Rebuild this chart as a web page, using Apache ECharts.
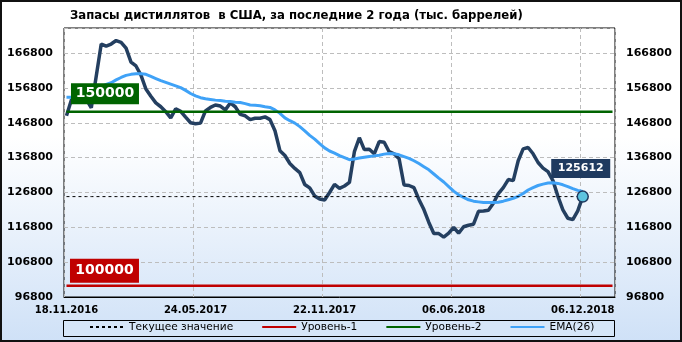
<!DOCTYPE html>
<html><head><meta charset="utf-8">
<script src="https://cdn.jsdelivr.net/npm/echarts@6/dist/echarts.min.js"></script>
<style>html,body{margin:0;padding:0;background:#fff}#c{width:682px;height:342px}</style>
</head><body><div id="c"></div>
<script>
const titleText = 'Запасы дистиллятов  в США, за последние 2 года (тыс. баррелей)';
const tickLabels = ['18.11.2016', '24.05.2017', '22.11.2017', '06.06.2018', '06.12.2018'];
const tickEvery = 26;
const slotCount = 111;
const stocks = [148800,153400,154000,155000,153500,151100,160200,169400,168800,169400,
170400,169900,168200,164200,163100,160500,156500,154400,152500,151400,
150000,148200,150800,150100,148400,146800,146500,146700,150200,151200,
151900,151600,150500,152500,151400,149200,148800,147700,148100,148100,
148500,147700,144500,138800,137400,135100,133700,132500,129100,128100,
125800,124900,124650,126800,129100,128000,128650,129700,138500,142500,
139100,139200,137900,141400,141200,138500,137900,136500,128950,128800,
128200,124800,121900,118200,115000,115000,114000,115100,116800,115100,
116950,117400,117700,121400,121500,121700,123700,126500,128200,130500,
130200,135900,139300,139700,137900,135400,133800,132800,130200,125700,
121800,119400,119000,121500,125612];
const ema26 = [154100,154100,154400,154700,155100,155700,156200,157100,157800,158300,
159100,159800,160400,160700,160900,160900,160700,160100,159500,158900,
158400,157900,157400,156900,156100,155200,154500,154000,153700,153500,
153300,153200,153000,152900,152700,152600,152300,151900,151800,151700,
151400,151200,150500,149500,148200,147400,146700,145700,144500,143200,
142100,140800,139600,138700,138100,137400,136800,136200,136400,136700,
136900,137100,137300,137500,137800,138000,137900,137600,137100,136600,
135900,135100,134200,133300,132100,130900,129800,128500,127200,126100,
125400,124700,124300,124100,123900,123900,123900,124000,124300,124700,
125100,125700,126500,127500,128200,128800,129200,129500,129600,129400,
129000,128500,127900,127400,127100];
const currentValue = 125612;
const level1 = 100000;
const level2 = 150000;
const yMin = 96800, yMax = 174000, yStep = 10000;

const F = 'DejaVu Sans';
const cats = Array.from({length: slotCount}, (_, i) =>
  (i % tickEvery === 0 && tickLabels[i / tickEvery]) ? tickLabels[i / tickEvery] : '');
const showTick = (i, v) => v !== '';
const lastIdx = stocks.length - 1;

const yAxisBase = {
  type: 'value', min: yMin, max: yMax, interval: yStep,
  axisLine: {show: false}, axisTick: {show: false},
  axisLabel: {showMaxLabel: false, formatter: v => String(v), color: '#000', fontSize: 11, fontWeight: 'bold', fontFamily: F, margin: 11}
};

const chart = echarts.init(document.getElementById('c'), null, {renderer: 'canvas'});
chart.setOption({
  animation: false,
  backgroundColor: {type: 'linear', x: 0, y: 0, x2: 0, y2: 1,
    colorStops: [{offset: 0, color: '#ffffff'}, {offset: 0.4, color: '#ffffff'}, {offset: 1, color: '#cfe1f7'}]},
  title: {text: titleText, left: 65, top: 5,
    textStyle: {fontFamily: F, fontSize: 11.7, fontWeight: 'bold', color: '#000'}},
  grid: {left: 64, right: 67, top: 28, bottom: 45, show: true, borderColor: '#000', borderWidth: 1, backgroundColor: 'transparent'},
  xAxis: {
    type: 'category', data: cats, boundaryGap: true,
    axisLine: {show: true, lineStyle: {color: '#000', width: 1}},
    axisTick: {show: false},
    axisLabel: {interval: showTick, color: '#000', fontSize: 10, fontWeight: 'bold', fontFamily: F, margin: 8},
    splitLine: {show: true, interval: showTick, lineStyle: {color: '#bdbdbd', type: [4, 3], width: 1}}
  },
  yAxis: [
    Object.assign({}, yAxisBase, {position: 'left',
      splitLine: {show: true, lineStyle: {color: '#bdbdbd', type: [4, 3], width: 1}}}),
    Object.assign({}, yAxisBase, {position: 'right', splitLine: {show: false}})
  ],
  legend: {
    data: ['Текущее значение', 'Уровень-1', 'Уровень-2', 'EMA(26)'],
    left: 89, top: 321.5, padding: 0, itemWidth: 34, itemHeight: 14, itemGap: 28, z: 10,
    itemStyle: {opacity: 0},
    textStyle: {fontFamily: F, fontSize: 10.6, color: '#000'}
  },
  graphic: [
    {type: 'rect', z: 1, shape: {x: 63.5, y: 320.5, width: 551, height: 16},
      style: {fill: '#d6e6f8', stroke: '#000', lineWidth: 1}},
    {type: 'rect', z: 100, shape: {x: 1, y: 1, width: 680, height: 340},
      style: {fill: 'none', stroke: '#111', lineWidth: 2}}
  ],
  series: [
    {name: 'Запасы', type: 'line', data: stocks, z: 2, symbol: 'none',
      lineStyle: {color: '#243f60', width: 3.5}, itemStyle: {color: '#243f60'}},
    {name: 'EMA(26)', type: 'line', data: ema26, z: 3, symbol: 'none',
      lineStyle: {color: '#3fa2f7', width: 3}, itemStyle: {color: '#3fa2f7'}},
    {name: 'Уровень-1', type: 'line', data: cats.map(() => level1), z: 4, symbol: 'none',
      lineStyle: {color: '#c00000', width: 2.5}, itemStyle: {color: '#c00000'},
      markPoint: {z: 6, data: [{coord: [0, level1], symbol: 'rect', symbolSize: [69, 24], symbolOffset: [38, -15],
        itemStyle: {color: '#c00000'},
        label: {show: true, position: 'inside', formatter: String(level1), color: '#fff', fontFamily: F, fontSize: 14, fontWeight: 'bold'}}]}},
    {name: 'Уровень-2', type: 'line', data: cats.map(() => level2), z: 4, symbol: 'none',
      lineStyle: {color: '#006400', width: 2.5}, itemStyle: {color: '#006400'},
      markPoint: {z: 6, data: [{coord: [0, level2], symbol: 'rect', symbolSize: [68, 21], symbolOffset: [38.5, -18],
        itemStyle: {color: '#006400'},
        label: {show: true, position: 'inside', formatter: String(level2), color: '#fff', fontFamily: F, fontSize: 14, fontWeight: 'bold'}}]}},
    {name: 'Текущее значение', type: 'line', data: stocks.map(() => currentValue), z: 5, symbol: 'none',
      lineStyle: {color: '#000', width: 1, type: [3, 3]}, itemStyle: {color: '#000'},
      markPoint: {z: 7, data: [
        {coord: [lastIdx, currentValue], symbol: 'circle', symbolSize: 11,
          itemStyle: {color: '#5cc3df', borderColor: '#1f3a5f', borderWidth: 1.5}, label: {show: false}},
        {coord: [lastIdx, currentValue], symbol: 'rect', symbolSize: [59, 19], symbolOffset: [-2, -28],
          itemStyle: {color: '#1f3a5f'},
          label: {show: true, position: 'inside', formatter: String(currentValue), color: '#fff', fontFamily: F, fontSize: 11, fontWeight: 'bold'}}
      ]}}
  ]
});
</script></body></html>
